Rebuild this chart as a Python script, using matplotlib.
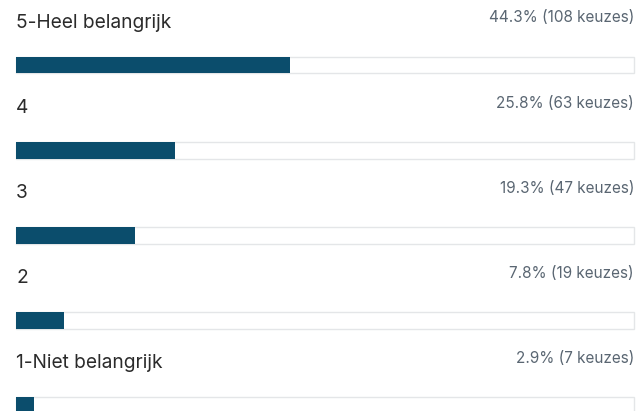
import numpy as np
import matplotlib.pyplot as plt

# Data
labels = ["5 - Heel belangrijk", "4", "3", "2", "1 - Niet belangrijk"]
percentages = [44.3, 25.8, 19.3, 7.8, 2.9]
counts = [108, 63, 47, 19, 7]

plt.rcParams["font.family"] = ["Inter", "DejaVu Sans"]

W, H = 636, 411
fig = plt.figure(figsize=(W / 100, H / 100), dpi=100)
# x axis: 0..100 % between pixel 16 and 634; y axis in pixels, top down
ax = fig.add_axes([16 / W, 0, 618 / W, 1])
ax.set_xlim(0, 100)
ax.set_ylim(H, 0)
ax.axis("off")

row_step = 85
bar_top = 57
bar_h = 16.5

for i, (lab, pct, n) in enumerate(zip(labels, percentages, counts)):
    y0 = bar_top + i * row_step
    # track
    ax.barh(y0, 100, height=bar_h, align="edge", color="white",
            edgecolor="#e4e6e8", linewidth=1.0, zorder=1, clip_on=False)
    # filled part
    ax.barh(y0, pct, height=bar_h, align="edge", color="#0b4d6c",
            edgecolor="none", zorder=2, clip_on=False)
    ax.text(0, y0 - 34, lab.replace(" - ", "-"), ha="left", va="center",
            fontsize=13.8, color="#2b2b2b", clip_on=False)
    ax.text(100, y0 - 39, f"{pct}% ({n} keuzes)", ha="right", va="center",
            fontsize=11, color="#5a6672", clip_on=False)

fig.savefig("out.png", dpi=100)
